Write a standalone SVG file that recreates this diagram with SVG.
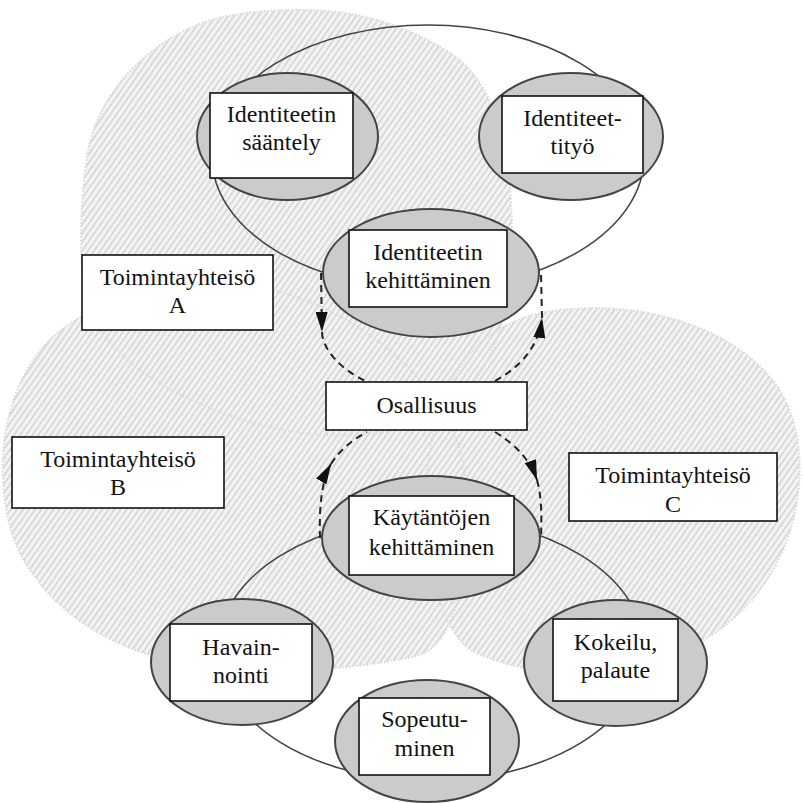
<svg xmlns="http://www.w3.org/2000/svg" width="803" height="803" viewBox="0 0 803 803">
<defs>
<pattern id="hatch" patternUnits="userSpaceOnUse" width="5" height="5" patternTransform="rotate(35)">
<rect width="5" height="5" fill="#f4f4f4"/>
<line x1="1" y1="0" x2="1" y2="5" stroke="#d3d3d3" stroke-width="1.6"/>
</pattern>
<marker id="arr" viewBox="0 0 20 12" refX="20" refY="6" markerWidth="20" markerHeight="12" markerUnits="userSpaceOnUse" orient="auto">
<path d="M0,0 L20,6 L0,12 Z" fill="#111"/>
</marker>
<style>
.region{fill:url(#hatch);stroke:none;}
.edge{fill:none;stroke:#dadada;stroke-width:2;stroke-dasharray:1.5 2;}
.ring{fill:none;stroke:#444;stroke-width:1.6;}
.node ellipse{fill:#cbcbcb;stroke:#444;stroke-width:2;}
.node rect{fill:#fff;stroke:#111;stroke-width:1.6;}
text{font-family:"Liberation Serif","Times New Roman",serif;font-size:24px;fill:#111;text-anchor:middle;}
.dash{fill:none;stroke:#222;stroke-width:2;stroke-dasharray:7 5;}
</style>
</defs>
<rect width="803" height="803" fill="#fff"/>
<g id="communities">
<path id="regionA" class="region" d="M 296 10 C 360 8, 420 30, 460 60 C 500 95, 512 160, 512 240 C 512 320, 490 380, 440 415 C 390 440, 320 440, 260 425 C 190 405, 120 370, 95 320 C 75 280, 80 200, 88 150 C 100 90, 150 40, 210 20 C 240 12, 270 10, 296 10 Z"/>
<path id="regionB" class="region" d="M 230 285 C 160 283, 95 300, 55 335 C 15 370, 0 430, 3 480 C 5 520, 15 550, 30 570 C 60 615, 110 650, 190 665 C 270 675, 360 670, 420 655 C 460 640, 470 560, 465 480 C 460 380, 330 285, 230 285 Z"/>
<path id="regionC" class="region" d="M 560 310 C 650 300, 740 330, 780 390 C 810 440, 805 520, 770 575 C 740 625, 690 655, 630 668 C 570 680, 510 670, 470 650 C 430 620, 420 520, 430 450 C 445 370, 480 318, 560 310 Z"/>
<path class="edge" d="M 296 10 C 360 8, 420 30, 460 60 C 500 95, 512 160, 512 240 C 512 320, 490 380, 440 415 C 390 440, 320 440, 260 425 C 190 405, 120 370, 95 320 C 75 280, 80 200, 88 150 C 100 90, 150 40, 210 20 C 240 12, 270 10, 296 10 Z"/>
<path class="edge" d="M 230 285 C 160 283, 95 300, 55 335 C 15 370, 0 430, 3 480 C 5 520, 15 550, 30 570 C 60 615, 110 650, 190 665 C 270 675, 360 670, 420 655 C 460 640, 470 560, 465 480 C 460 380, 330 285, 230 285 Z"/>
<path class="edge" d="M 560 310 C 650 300, 740 330, 780 390 C 810 440, 805 520, 770 575 C 740 625, 690 655, 630 668 C 570 680, 510 670, 470 650 C 430 620, 420 520, 430 450 C 445 370, 480 318, 560 310 Z"/>
</g>
<g id="cycles">
<ellipse class="ring" cx="428" cy="157" rx="216" ry="132"/>
<ellipse class="ring" cx="431" cy="649" rx="213" ry="132"/>
</g>
<g id="connectors">
<path class="dash" d="M 321 273 L 322 332" marker-end="url(#arr)"/>
<path class="dash" d="M 322 332 C 322 348, 340 370, 368 382"/>
<path class="dash" d="M 495 381 C 520 367, 538 348, 542 318" marker-end="url(#arr)"/>
<path class="dash" d="M 542 318 L 541 273"/>
<path class="dash" d="M 320 538 C 319 505, 322 480, 331 464" marker-end="url(#arr)"/>
<path class="dash" d="M 331 464 C 340 450, 352 440, 367 432"/>
<path class="dash" d="M 495 432 C 515 444, 530 460, 537 480" marker-end="url(#arr)"/>
<path class="dash" d="M 537 480 C 541 495, 542 510, 541 538"/>
</g>
<g id="identiteetin-saantely" class="node">
<ellipse cx="287.5" cy="136.5" rx="90.5" ry="63.5"/>
<rect x="210" y="93" width="143" height="85"/>
<text x="281.5" y="122">Identiteetin</text>
<text x="281.5" y="150">sääntely</text>
</g>
<g id="identiteettityo" class="node">
<ellipse cx="571" cy="136.5" rx="92" ry="63.5"/>
<rect x="502" y="96" width="141" height="77"/>
<text x="572.5" y="126">Identiteet-</text>
<text x="572.5" y="154">tityö</text>
</g>
<g id="identiteetin-kehittaminen" class="node">
<ellipse cx="431" cy="273" rx="108" ry="64"/>
<rect x="349" y="230" width="158" height="77"/>
<text x="428" y="260">Identiteetin</text>
<text x="428" y="288">kehittäminen</text>
</g>
<g id="osallisuus" class="node">
<rect x="326" y="382" width="201" height="48"/>
<text x="426.5" y="413">Osallisuus</text>
</g>
<g id="kaytantojen-kehittaminen" class="node">
<ellipse cx="431" cy="538" rx="109" ry="62"/>
<rect x="349" y="496" width="165" height="79"/>
<text x="431.5" y="525">Käytäntöjen</text>
<text x="431.5" y="555">kehittäminen</text>
</g>
<g id="havainnointi" class="node">
<ellipse cx="242" cy="662" rx="91" ry="63"/>
<rect x="170" y="624" width="142" height="77"/>
<text x="241" y="655">Havain-</text>
<text x="241" y="683">nointi</text>
</g>
<g id="kokeilu-palaute" class="node">
<ellipse cx="615.5" cy="663" rx="91.5" ry="63"/>
<rect x="553" y="619" width="125" height="82"/>
<text x="615.5" y="650">Kokeilu,</text>
<text x="615.5" y="678">palaute</text>
</g>
<g id="sopeutuminen" class="node">
<ellipse cx="427" cy="741" rx="92" ry="61"/>
<rect x="359" y="698" width="131" height="77"/>
<text x="424.5" y="727">Sopeutu-</text>
<text x="424.5" y="756">minen</text>
</g>
<g id="toimintayhteiso-a" class="node">
<rect x="82" y="255" width="191" height="75"/>
<text x="177.5" y="285">Toimintayhteisö</text>
<text x="177.5" y="313">A</text>
</g>
<g id="toimintayhteiso-b" class="node">
<rect x="12" y="437" width="212" height="71"/>
<text x="118" y="467">Toimintayhteisö</text>
<text x="118" y="495">B</text>
</g>
<g id="toimintayhteiso-c" class="node">
<rect x="569" y="453" width="208" height="68"/>
<text x="673" y="483">Toimintayhteisö</text>
<text x="673" y="512">C</text>
</g>
</svg>
